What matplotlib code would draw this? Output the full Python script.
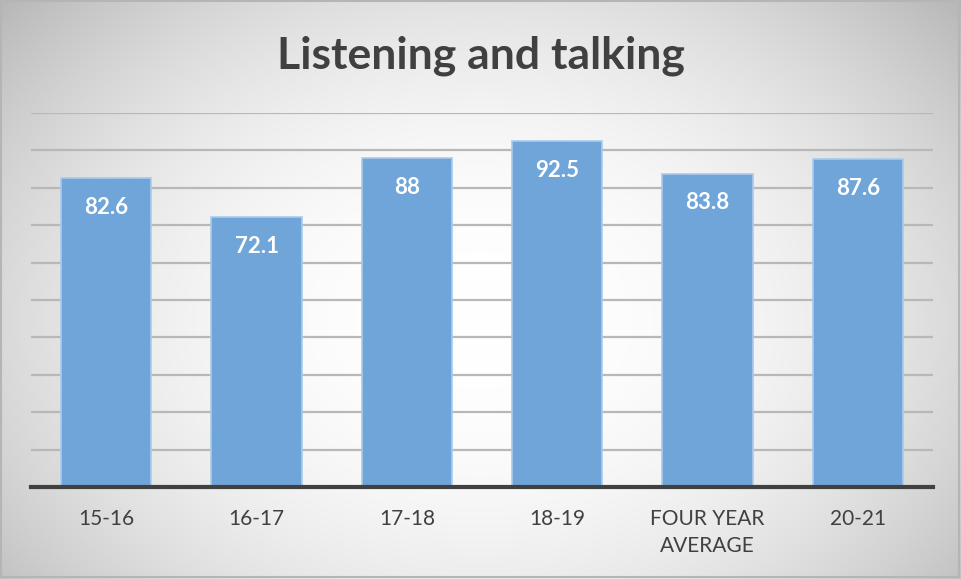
import numpy as np
import matplotlib
matplotlib.use("Agg")
import matplotlib.pyplot as plt

categories = ["15-16", "16-17", "17-18", "18-19", "FOUR YEAR\nAVERAGE", "20-21"]
values = [82.6, 72.1, 88, 92.5, 83.8, 87.6]
value_labels = ["82.6", "72.1", "88", "92.5", "83.8", "87.6"]
title = "Listening and talking"

W, H = 961, 579
fig = plt.figure(figsize=(W / 100, H / 100), dpi=100)

# radial gradient background
bg = fig.add_axes([0, 0, 1, 1], zorder=-10)
yy, xx = np.mgrid[0:H, 0:W]
cx, cy = 480, 320
r = np.sqrt(((xx - cx) / 560.0) ** 2 + ((yy - cy) / 420.0) ** 2)
val = 1.0 - 0.21 * np.clip(r, 0, 1.3) ** 2.2
img = np.dstack([val, val, val])
bg.imshow(img, extent=[0, W, H, 0], aspect="auto", interpolation="bilinear")
bg.set_xlim(0, W)
bg.set_ylim(H, 0)
bg.axis("off")
# border
bg.add_patch(plt.Rectangle((1, 1), W - 3, H - 3, fill=False, edgecolor="#b5b5b5", lw=1.5))

font = ["Lato", "DejaVu Sans"]

ax = fig.add_axes([31 / W, 1 - 487 / H, (933 - 31) / W, (487 - 113) / H])
ax.patch.set_alpha(0)
x = np.arange(len(categories))
bars = ax.bar(x, values, width=0.6, color="#6fa5d9", edgecolor="#a9cbeb", linewidth=1.2, zorder=3)
ax.set_xlim(-0.5, len(categories) - 0.5)
ax.set_ylim(0, 100)
ax.set_yticks(np.arange(10, 101, 10))
ax.yaxis.grid(True, color="#b8b8b8", lw=1.6, zorder=0)
ax.tick_params(axis="y", length=0, labelleft=False)
ax.tick_params(axis="x", length=0, pad=16)
ax.set_xticks(x)
ax.set_xticklabels(categories, fontsize=15, color="#404040", family=font, linespacing=1.45)
for s in ["top", "right", "left"]:
    ax.spines[s].set_visible(False)
ax.spines["bottom"].set_color("#404040")
ax.spines["bottom"].set_linewidth(3)
ax.spines["bottom"].set_zorder(5)

for xi, v, lab in zip(x, values, value_labels):
    ax.annotate(lab, (xi, v), xytext=(0, -21), textcoords="offset points",
                ha="center", va="center", color="white", fontsize=16,
                fontweight="bold", family=font, zorder=6)

fig.text(0.5, 1 - 56 / H, title, ha="center", va="center", fontsize=32,
         fontweight="bold", color="#404040", family=font)

fig.savefig("out.png", dpi=100)
